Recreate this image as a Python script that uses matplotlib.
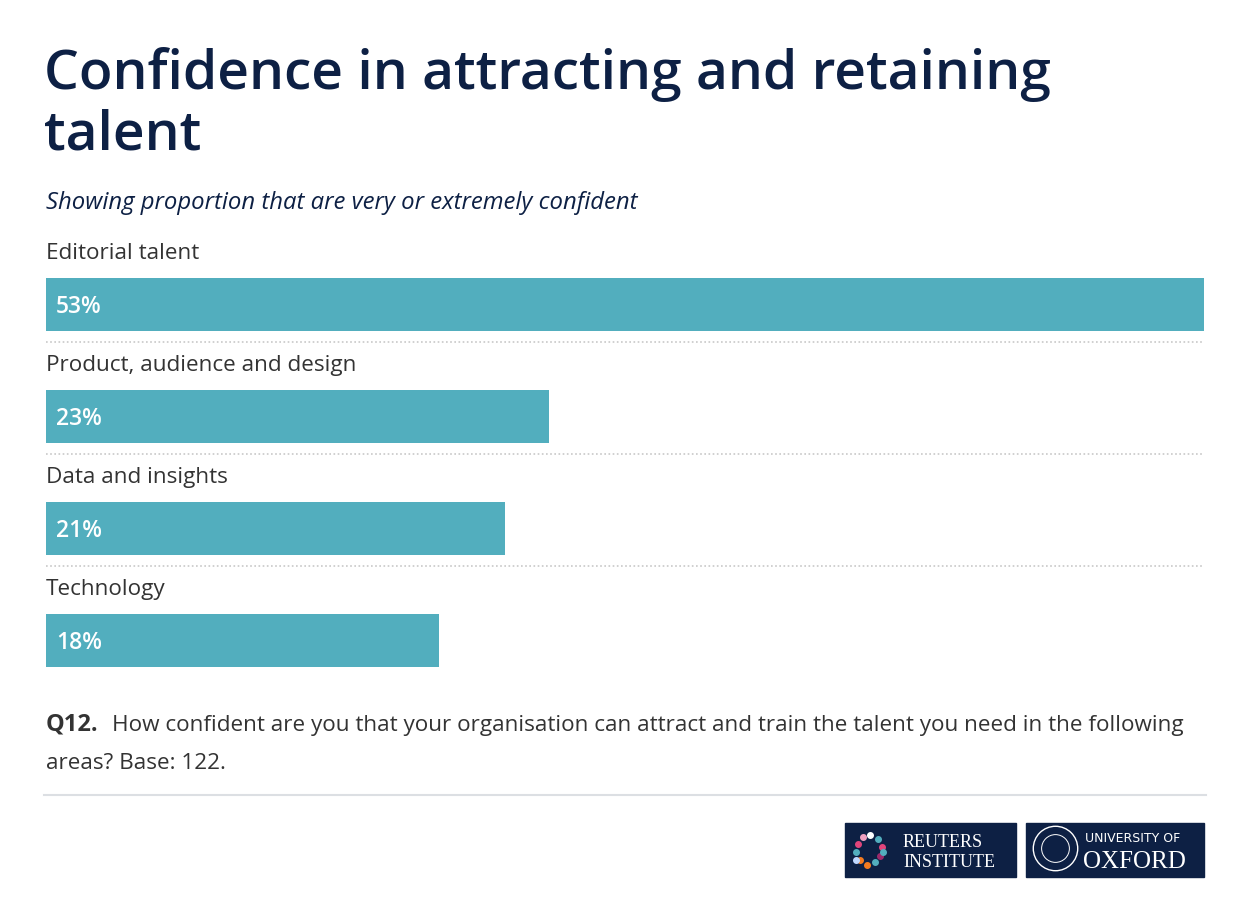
import matplotlib
matplotlib.use("Agg")
import matplotlib.pyplot as plt
from matplotlib.patches import Rectangle

# === DATA ===
categories = ["Editorial talent", "Product, audience and design", "Data and insights", "Technology"]
values = [53, 23, 21, 18]

TITLE = "Confidence in attracting and retaining\ntalent"
SUBTITLE = "Showing proportion that are very or extremely confident"
NOTE_BOLD = "Q12."
NOTE_1 = "How confident are you that your organisation can attract and train the talent you need in the following"
NOTE_2 = "areas? Base: 122."

# === STYLE ===
W, H = 1254, 918
NAVY = "#0d2044"
BAR = "#52aebe"
TEXT = "#333333"
FONT = "Open Sans"

fig = plt.figure(figsize=(W / 100, H / 100), dpi=100)

# background axes in pixel coordinates for text / decorations
bg = fig.add_axes([0, 0, 1, 1])
bg.set_xlim(0, W)
bg.set_ylim(H, 0)
bg.axis("off")

bg.text(44, 149, TITLE, fontsize=39.7, color=NAVY, family=FONT, fontweight="semibold",
        va="baseline", linespacing=1.14)
bg.text(46, 209, SUBTITLE, fontsize=17.2, color=NAVY, family=FONT, style="italic", va="baseline")

# bar axes: x from 46 to 1204 px, top bar top at 278, bottom bar bottom at 667
x0, x1 = 46, 1204
y_top, y_bot = 278, 667
ax = fig.add_axes([x0 / W, 1 - y_bot / H, (x1 - x0) / W, (y_bot - y_top) / H])
step = 112.0
bh = 53 / step
pos = list(range(len(categories)))
ax.barh(pos, values, height=bh, color=BAR)
ax.set_xlim(0, max(values))
ax.set_ylim(len(categories) - 1 + bh / 2, -bh / 2)
ax.axis("off")

for i, (cat, v) in enumerate(zip(categories, values)):
    ax.text(0.0, i - (304.5 - 259) / step, cat, fontsize=16.2, color=TEXT, family=FONT,
            va="baseline", ha="left", transform=ax.transData)
    ax.text(0.45, i + 0.02, f"{v}%", fontsize=16.5, color="white", family=FONT,
            fontweight="semibold", va="center", ha="left")
    if i < len(categories) - 1:
        ax.plot([0, max(values)], [i + (342 - 304.5) / step] * 2, color="#c8c8c8",
                lw=1.2, ls=(0, (1, 1.5)), clip_on=False)

# footnote
bg.text(46, 731, NOTE_BOLD, fontsize=17, color=TEXT, family=FONT, fontweight="bold",
        va="baseline")
bg.text(112, 731, NOTE_1, fontsize=16.2, color=TEXT, family=FONT, va="baseline")
bg.text(46, 769, NOTE_2, fontsize=16.2, color=TEXT, family=FONT, va="baseline")

bg.plot([44, 1206], [795, 795], color="#dcdfe3", lw=1.5)

# logos
bg.add_patch(Rectangle((845, 823), 171, 54, color=NAVY))
bg.add_patch(Rectangle((1026, 823), 178, 54, color=NAVY))
dots = [(-12, -6, "#e0457b"), (-14, 2, "#52aebe"), (-10, 10, "#f47b20"), (-3, 15, "#f47b20"),
        (5, 12, "#52aebe"), (10, 6, "#9c2a6b"), (12, -3, "#e0457b"), (8, -11, "#52aebe"),
        (0, -15, "#ffffff"), (-7, -13, "#f0a0c0"), (-14, 10, "#c0d8ff"), (13, 2, "#52aebe")]
for dx, dy, c in dots:
    bg.plot(870 + dx, 850 + dy, "o", ms=4, color=c)
bg.text(903, 847, "REUTERS", fontsize=13, color="white", family="Liberation Serif", va="baseline")
bg.text(903, 867, "INSTITUTE", fontsize=13, color="white", family="Liberation Serif", va="baseline")
bg.plot(1055, 848, "o", ms=32, mfc="none", mec="white", mew=1)
bg.plot(1055, 848, "o", ms=20, mfc="none", mec="white", mew=0.7)
bg.text(1085, 842, "UNIVERSITY OF", fontsize=9, color="white", family="DejaVu Sans", va="baseline")
bg.text(1083, 868, "OXFORD", fontsize=18, color="white", family="Liberation Serif", va="baseline")

fig.savefig("out.png", dpi=100, facecolor="white")
